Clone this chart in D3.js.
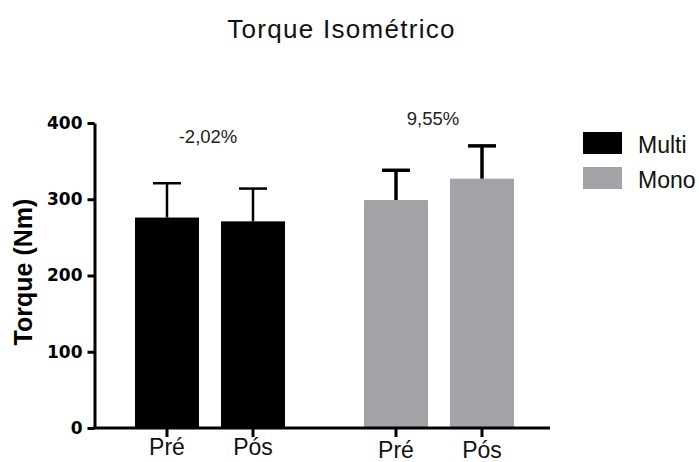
<!DOCTYPE html>
<html>
<head>
<meta charset="utf-8">
<script src="https://cdn.jsdelivr.net/npm/d3@7"></script>
<style>
  body { margin: 0; background: #fff; }
  svg { display: block; }
</style>
</head>
<body>
<div id="chart"></div>
<script>
// data
const groups = ["Multi", "Mono"];
const moments = ["Pré", "Pós"];
const multiMeans = [276, 271];
const multiSD = [45, 43];
const monoMeans = [299, 327];
const monoSD = [39, 43];
const changeLabels = ["-2,02%", "9,55%"];
const yTicks = [0, 100, 200, 300, 400];

const colors = {Multi: "#000000", Mono: "#a3a2a7"};

const width = 699, height = 462;

const svg = d3.select("#chart").append("svg")
    .attr("width", width)
    .attr("height", height);

// build rows from the arrays
let rows = [];
groups.forEach((g, gi) => {
    let means = gi === 0 ? multiMeans : monoMeans;
    let sds = gi === 0 ? multiSD : monoSD;
    moments.forEach((m, mi) => {
        rows.push({group: g, moment: m, mean: means[mi], sd: sds[mi]});
    });
});

// scales
let y = d3.scaleLinear().domain([0, 400]).range([428, 123]);
let xGroup = d3.scalePoint().domain(groups).range([210, 439]);
let xInner = d3.scaleBand().domain(moments).range([-86, 86])
    .paddingInner(0.256).paddingOuter(0.128);

// title
svg.append("text")
    .attr("x", 341.5)
    .attr("y", 38)
    .attr("text-anchor", "middle")
    .style("font-family", "'Liberation Sans', Arial, sans-serif")
    .style("font-size", "26px")
    .style("letter-spacing", "1.3px")
    .attr("fill", "#111")
    .text("Torque Isométrico");

// bars
svg.selectAll("rect.bar")
    .data(rows)
    .join("rect")
    .attr("class", "bar")
    .attr("x", d => xGroup(d.group) + xInner(d.moment))
    .attr("width", xInner.bandwidth())
    .attr("y", d => y(d.mean))
    .attr("height", d => y(0) - y(d.mean))
    .attr("fill", d => colors[d.group]);

// error bars (upper only)
let err = svg.selectAll("g.err")
    .data(rows)
    .join("g")
    .attr("class", "err")
    .attr("transform", d => `translate(${xGroup(d.group) + xInner(d.moment) + xInner.bandwidth() / 2},0)`)
    .attr("stroke", "#000")
    .attr("stroke-width", d => d.group === "Multi" ? 2.5 : 3.5);

err.append("line")
    .attr("x1", 0).attr("x2", 0)
    .attr("y1", d => y(d.mean))
    .attr("y2", d => y(d.mean + d.sd));

err.append("line")
    .attr("x1", -14).attr("x2", 14)
    .attr("y1", d => y(d.mean + d.sd))
    .attr("y2", d => y(d.mean + d.sd));

// y axis
let yAxis = svg.append("g")
    .attr("transform", "translate(94.5,0)")
    .call(d3.axisLeft(y).tickValues(yTicks).tickSize(7).tickSizeOuter(0).tickPadding(5));

yAxis.select(".domain").attr("stroke-width", 3);
yAxis.selectAll(".tick line").attr("stroke-width", 3);
yAxis.selectAll(".tick text")
    .style("font-family", "'DejaVu Sans', sans-serif")
    .style("font-weight", "bold")
    .style("font-size", "17px")
    .attr("fill", "#000");

// y label
svg.append("text")
    .attr("transform", "translate(32,272) rotate(-90)")
    .attr("text-anchor", "middle")
    .style("font-family", "'Liberation Sans', Arial, sans-serif")
    .style("font-weight", "bold")
    .style("font-size", "25px")
    .attr("fill", "#000")
    .text("Torque (Nm)");

// x axis line
svg.append("line")
    .attr("x1", 93)
    .attr("x2", 550)
    .attr("y1", y(0))
    .attr("y2", y(0))
    .attr("stroke", "#000")
    .attr("stroke-width", 3);

// x ticks per group
groups.forEach((g, gi) => {
    let ax = svg.append("g")
        .attr("transform", `translate(${xGroup(g)},${y(0)})`)
        .call(d3.axisBottom(xInner).tickSize(9).tickPadding(2));
    ax.select(".domain").remove();
    ax.selectAll(".tick line").attr("stroke-width", 3);
    ax.selectAll(".tick text")
        .attr("dy", gi === 0 ? "0.71em" : "0.84em")
        .style("font-family", "'Liberation Sans', Arial, sans-serif")
        .style("font-size", "23px")
        .attr("fill", "#111");
});

// change annotations
let annY = [143, 125];
svg.selectAll("text.ann")
    .data(groups)
    .join("text")
    .attr("class", "ann")
    .attr("x", (d, i) => xGroup(d) - (i === 0 ? 2 : 6))
    .attr("y", (d, i) => annY[i])
    .attr("text-anchor", "middle")
    .style("font-family", "'Liberation Sans', Arial, sans-serif")
    .style("font-size", "18.5px")
    .attr("fill", "#222")
    .text((d, i) => changeLabels[i]);

// legend
let legend = svg.append("g");
let legendY = [143.5, 178.5];
groups.forEach((g, i) => {
    legend.append("rect")
        .attr("x", 583)
        .attr("y", legendY[i] - 11.5)
        .attr("width", 39)
        .attr("height", 22)
        .attr("fill", colors[g]);
    legend.append("text")
        .attr("x", 638)
        .attr("y", legendY[i] + 9)
        .style("font-family", "'Liberation Sans', Arial, sans-serif")
        .style("font-size", "23px")
        .attr("fill", "#111")
        .text(g);
});
</script>
</body>
</html>
